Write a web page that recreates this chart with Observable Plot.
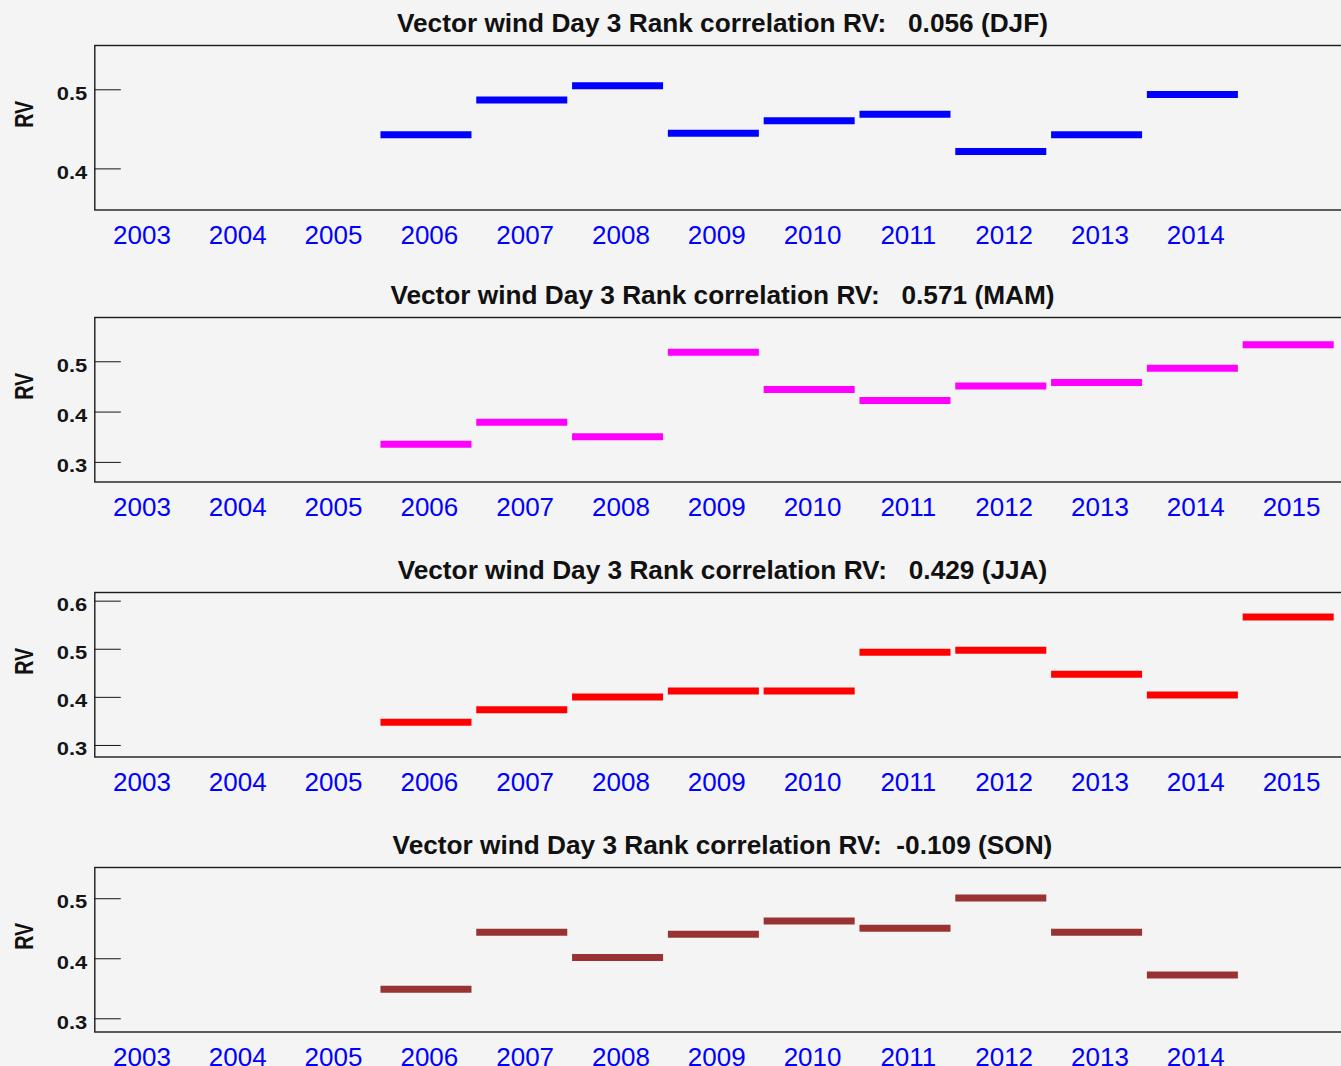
<!DOCTYPE html>
<html><head><meta charset="utf-8">
<script src="https://cdn.jsdelivr.net/npm/d3@7"></script>
<script src="https://cdn.jsdelivr.net/npm/@observablehq/plot@0.6"></script>
<style>
html,body{margin:0;padding:0;background:#f4f4f4;overflow:hidden;}
#chart{position:relative;width:1341px;height:1066px;overflow:hidden;background:#f4f4f4;}
.panel{position:absolute;left:0;width:1345px;}
.panel svg{max-width:none !important;}
</style></head><body><div id="chart"></div>
<script>
// ---- data ----
const yearLabelsShort = [2003,2004,2005,2006,2007,2008,2009,2010,2011,2012,2013,2014];
const yearLabelsLong  = [2003,2004,2005,2006,2007,2008,2009,2010,2011,2012,2013,2014,2015];

const djfYears = [2006,2007,2008,2009,2010,2011,2012,2013,2014];
const djfRV    = [0.443,0.487,0.505,0.445,0.461,0.469,0.422,0.443,0.494];

const mamYears = [2006,2007,2008,2009,2010,2011,2012,2013,2014,2015];
const mamRV    = [0.336,0.380,0.351,0.519,0.445,0.423,0.452,0.459,0.487,0.534];

const jjaYears = [2006,2007,2008,2009,2010,2011,2012,2013,2014,2015];
const jjaRV    = [0.348,0.374,0.401,0.413,0.413,0.494,0.498,0.448,0.405,0.567];

const sonYears = [2006,2007,2008,2009,2010,2011,2012,2013,2014];
const sonRV    = [0.349,0.444,0.402,0.441,0.463,0.451,0.501,0.444,0.373];

const seasonNames = ["DJF","MAM","JJA","SON"];
const overallRV   = ["  0.056","  0.571","  0.429"," -0.109"];
const yTickValues = [[0.4,0.5],[0.3,0.4,0.5],[0.3,0.4,0.5,0.6],[0.3,0.4,0.5]];
const yDomains    = [[0.348,0.556],[0.261,0.588],[0.276,0.618],[0.278,0.552]];

// ---- styles / layout ----
const barColors = ["#0000ff","#ff00ff","#ff0000","#993333"];
const frameTops = [45, 317.3, 592.3, 866.7];
const panelSeries = [
  {years: djfYears, rv: djfRV, labels: yearLabelsShort},
  {years: mamYears, rv: mamRV, labels: yearLabelsLong},
  {years: jjaYears, rv: jjaRV, labels: yearLabelsLong},
  {years: sonYears, rv: sonRV, labels: yearLabelsShort}
];
const FONT = "'Liberation Sans', Arial, Helvetica, sans-serif";
const chart = document.getElementById("chart");
const titleTexts = [];

panelSeries.forEach((p, i) => {
  const data = p.years.map((y, j) => ({year: y, rv: p.rv[j]}));
  const title = `Vector wind Day 3 Rank correlation RV: ${overallRV[i]} (${seasonNames[i]})`;
  const svg = Plot.plot({
    width: 1345, height: 274,
    marginLeft: 94.3, marginRight: 0, marginTop: 45, marginBottom: 64.5,
    style: {background: "transparent", fontFamily: FONT, overflow: "visible", color: "#151515", maxWidth: "none"},
    x: {domain: [2002.508, 2015.563], axis: null},
    y: {domain: yDomains[i], axis: null},
    marks: [
      Plot.ruleY(data, {y: "rv", x1: d => d.year - 0.505, x2: d => d.year + 0.445,
                        stroke: barColors[i], strokeWidth: 7}),
      Plot.frame({stroke: "#1a1a1a", strokeWidth: 1.4}),
      Plot.axisY(yTickValues[i], {anchor: "left", tickSize: -26.5, tickPadding: 34, fontSize: 18,
                                  fontWeight: "bold", tickFormat: d3.format(".1f"), label: null}),
      Plot.axisX(p.labels, {anchor: "bottom", tickSize: 0, tickPadding: 15.5, fontSize: 26,
                            fill: "#0000ff", tickFormat: d => String(d), label: null}),
      Plot.text([title], {frameAnchor: "top", lineAnchor: "bottom", dy: -13.5, dx: 2.3,
                          fontSize: 26, fontWeight: "bold", fill: "#111", text: d => d}),
      Plot.text(["RV"], {frameAnchor: "left", rotate: -90, dx: -70.6, fontSize: 26,
                         fontWeight: "bold", fill: "#111", text: d => d})
    ]
  });
  svg.style.maxWidth = "none";
  const div = document.createElement("div");
  div.className = "panel";
  div.style.top = (frameTops[i] - 45) + "px";
  div.appendChild(svg);
  chart.appendChild(div);

  const s = d3.select(svg);
  // y tick labels: wide bitmap-like digits, slightly below tick
  const gl = s.select('g[aria-label="y-axis tick label"]');
  gl.attr("transform", (gl.attr("transform") || "") + " translate(0,4)");
  gl.selectAll("text").attr("textLength", 30.5).attr("lengthAdjust", "spacingAndGlyphs");
  const texts = s.selectAll('g[aria-label="text"]').nodes();
  const tt = d3.select(texts[0]).select("text").style("white-space", "pre");
  titleTexts.push(tt.node());
  d3.select(texts[1]).select("text").attr("textLength", 27).attr("lengthAdjust", "spacingAndGlyphs");
});

// horizontal scaling of titles to match the reference glyph widths
const w0 = titleTexts[0].getComputedTextLength();
const k = 651 / w0;
titleTexts.forEach(t => {
  const w = t.getComputedTextLength();
  t.setAttribute("textLength", (w * k).toFixed(1));
  t.setAttribute("lengthAdjust", "spacingAndGlyphs");
});
</script>
</body></html>
